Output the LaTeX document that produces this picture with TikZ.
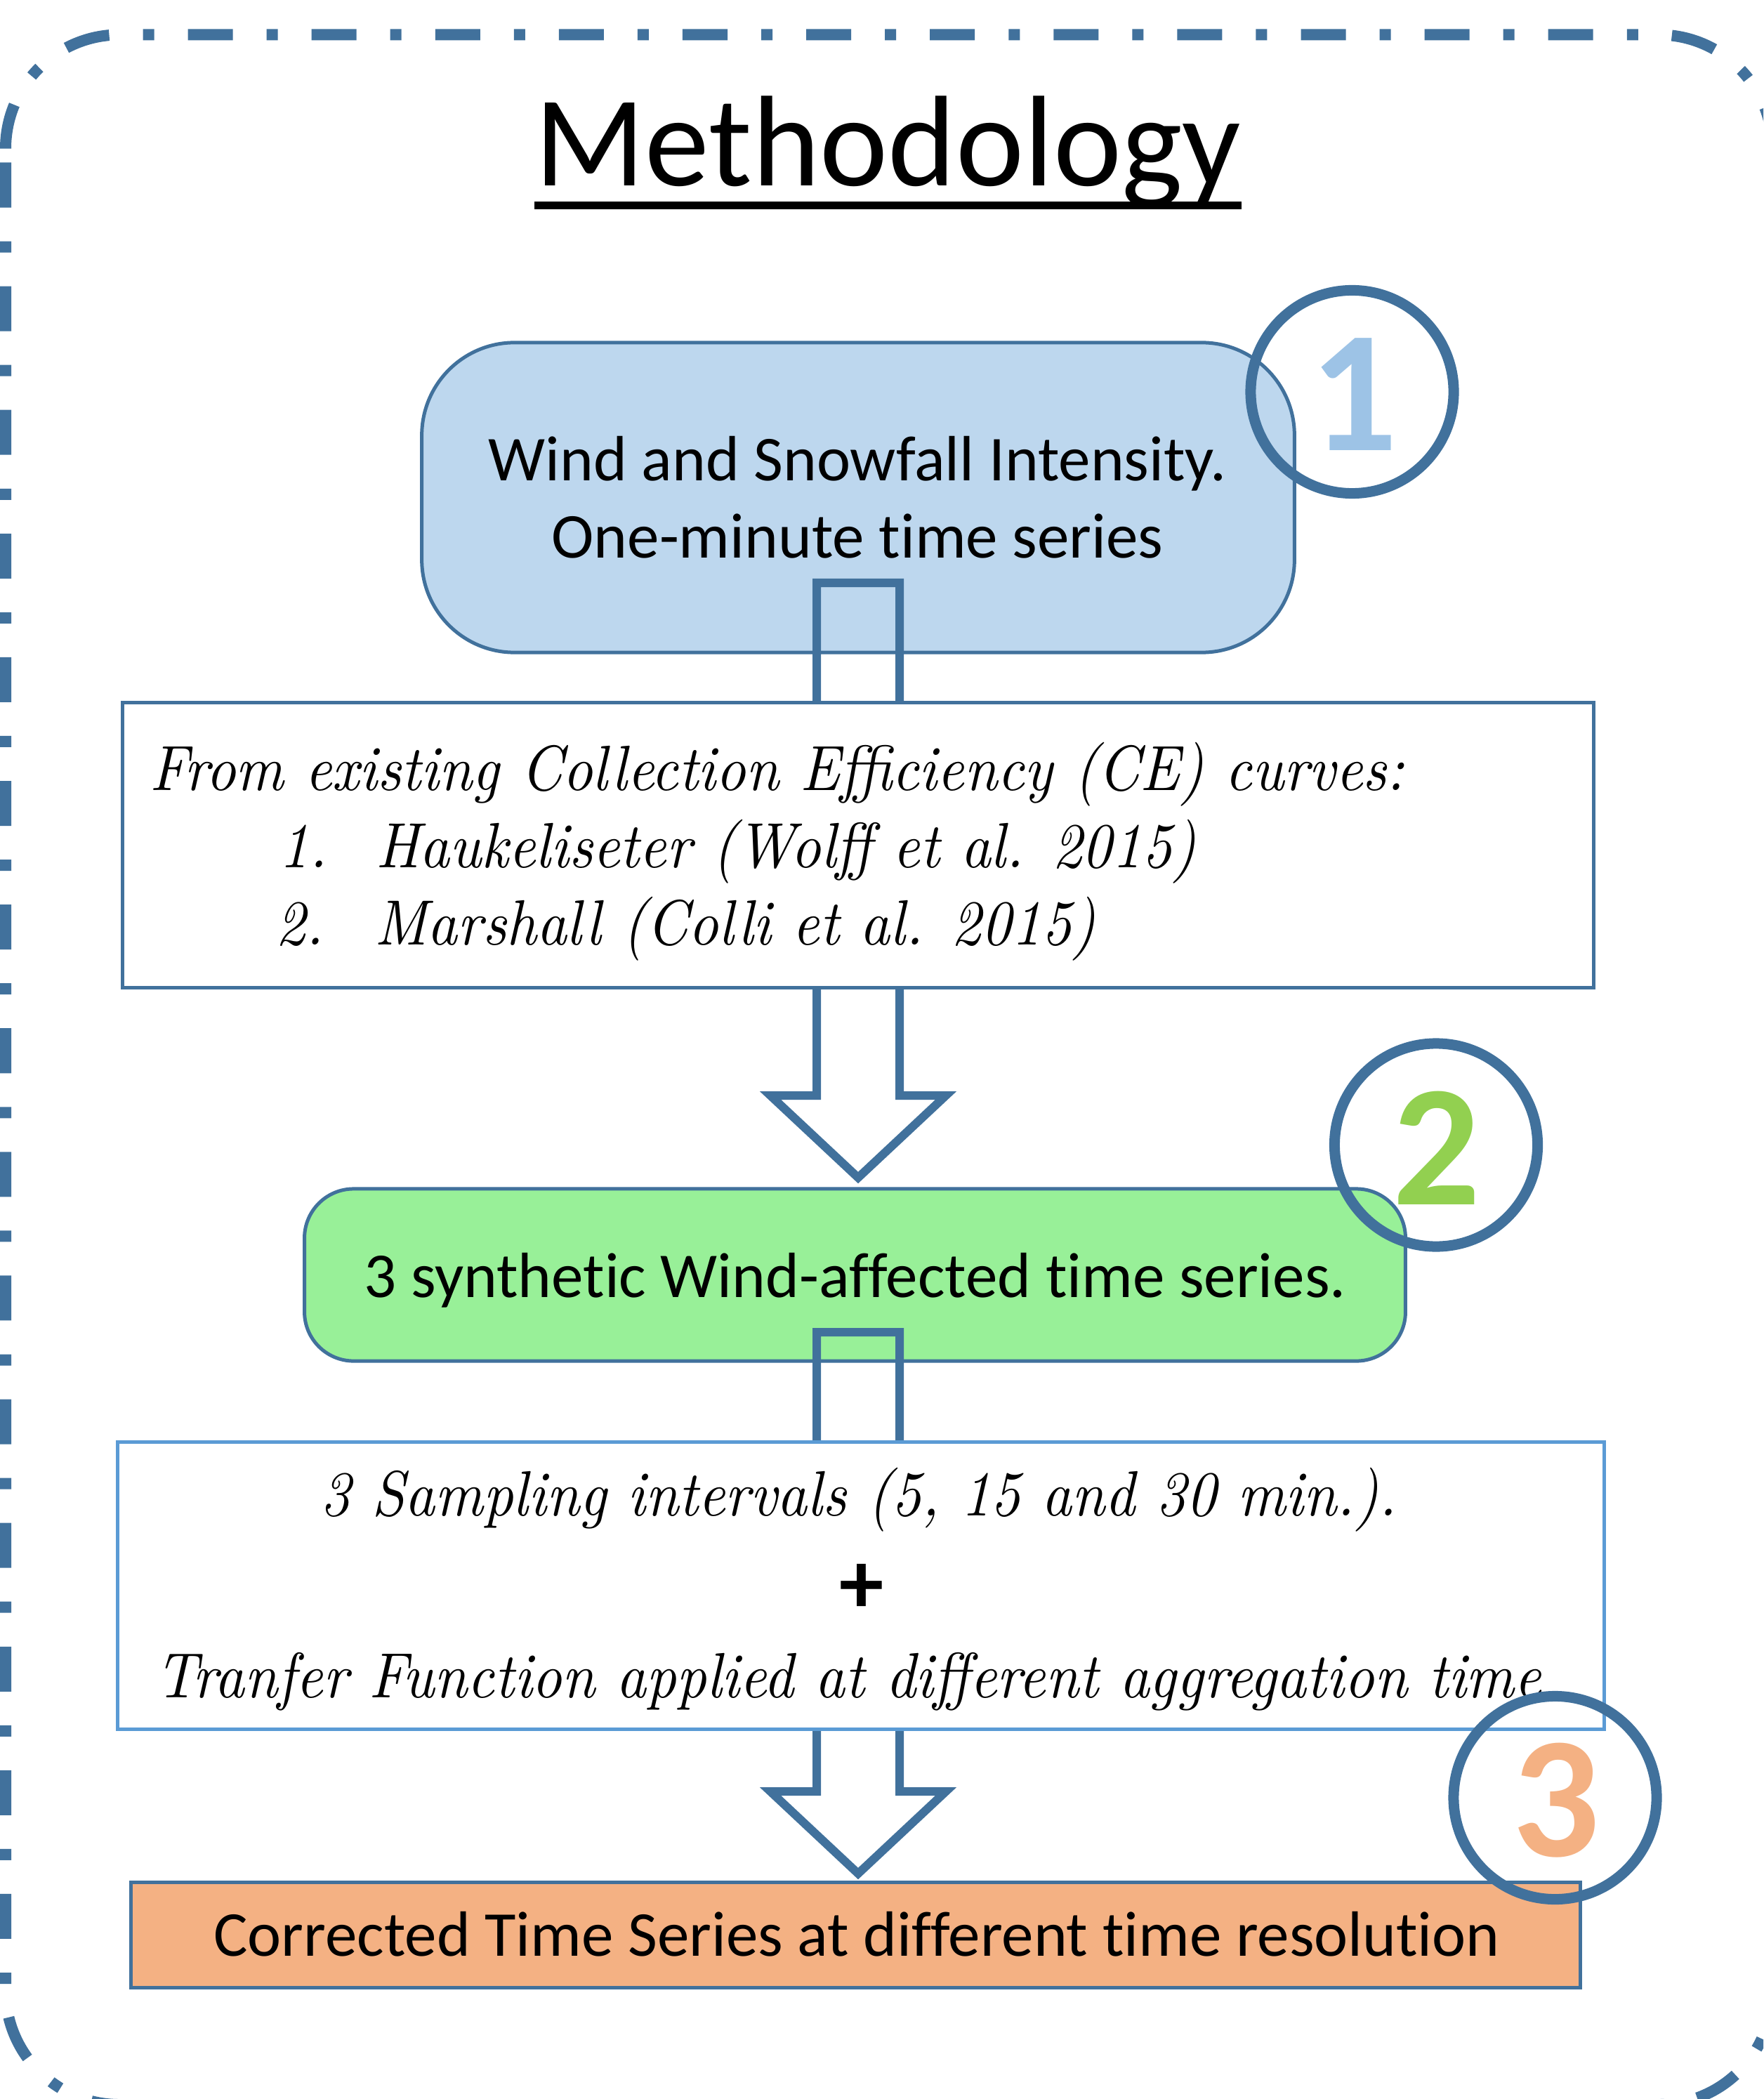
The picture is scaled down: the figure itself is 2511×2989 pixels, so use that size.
\documentclass[tikz,border=0pt]{standalone}
\usepackage{fontspec}
\usepackage{graphicx}
\newfontfamily\calfont{Carlito}[Ligatures=NoCommon]
\newfontfamily\lmtenit{lmroman10-italic}[Extension=.otf]
\definecolor{steel}{HTML}{41719C}
\definecolor{lblue}{HTML}{BDD7EE}
\definecolor{numblue}{HTML}{9DC3E6}
\definecolor{lgreen}{HTML}{98F098}
\definecolor{numgreen}{HTML}{92D050}
\definecolor{peach}{HTML}{F4B183}
\definecolor{midblue}{HTML}{5B9BD5}
\tikzset{
  box/.style={draw=steel, line width=0.05cm, inner sep=0pt, outer sep=0pt},
  calt/.style={font=\calfont\fontsize{25.9pt}{31pt}\selectfont, inner sep=0pt, anchor=base},
  itt/.style={font=\lmtenit\fontsize{25.9pt}{31pt}\selectfont, inner sep=0pt, anchor=base west},
  itc/.style={font=\lmtenit\fontsize{25.9pt}{31pt}\selectfont, inner sep=0pt, anchor=base},
  ring/.style={draw=steel, line width=0.15cm, circle, minimum size=2.89cm, inner sep=0pt},
  num/.style={font=\calfont\bfseries\fontsize{70pt}{80pt}\selectfont, inner sep=0pt},
  blockarrow/.style={draw=steel, line width=0.12cm, line join=miter},
  borderline/.style={draw=steel, line width=0.16cm, dash pattern=on 0.64cm off 0.48cm on 0.16cm off 0.48cm, rounded corners=1.62cm},
}
\newcommand{\narrow}[1]{\scalebox{0.92}[1]{#1}}
\begin{document}
\begin{tikzpicture}[x=0.01cm, y=-0.01cm]
\useasboundingbox (0,0) rectangle (2511,2989);
\clip (0,0) rectangle (2511,2989);

% outer dash-dot border
\draw[borderline] (8,211.5) -- (8,49.5) -- (2524,49.5) -- (2524,2997) -- (170,2997);
\draw[borderline, dash phase=1.56cm] (8,211.5) -- (8,2997) -- (170,2997);

% title
\node[font=\calfont\fontsize{52.3pt}{60pt}\selectfont, inner sep=0pt, anchor=base] (title) at (1264.5,265) {Methodology};
\draw[line width=0.117cm] ([yshift=-0.275cm]title.base west) -- ([yshift=-0.275cm]title.base east);

% box 1
\node[box, fill=lblue, rounded corners=1.32cm, minimum width=12.42cm, minimum height=4.41cm] (b1) at (1222,708.5) {};
\node[calt] (t1a) at (1221,685) {Wind and Snowfall Intensity.};
\node[calt] (t1b) at (1221,795) {One-minute time series};

% arrow 1
\coordinate (a1) at (1222,830);
\draw[blockarrow] (a1) ++(-59,0) -- ++(0,730) -- ++(-66,0) -- ++(125,117) -- ++(125,-117) -- ++(-66,0) -- ++(0,-730) -- cycle;

% box 2
\node[box, fill=white, minimum width=20.94cm, minimum height=4.05cm] (b2) at (1222,1203.5) {};
\node[itt] (t2a) at (213,1125) {\narrow{From existing Collection Efficiency (CE) curves:}};
\node[itt] (t2b) at (397,1235) {\narrow{1.}};
\node[itt] (t2c) at (535,1235) {\narrow{Haukeliseter (Wolff et al. 2015)}};
\node[itt] (t2d) at (392,1345) {\narrow{2.}};
\node[itt] (t2e) at (533,1345) {\narrow{Marshall (Colli et al. 2015)}};

% box 3
\node[box, fill=lgreen, rounded corners=0.70cm, minimum width=15.67cm, minimum height=2.45cm] (b3) at (1217.5,1815.5) {};
\node[calt] (t3) at (1217.5,1847) {3 synthetic Wind-affected time series.};

% arrow 2
\coordinate (a2) at (1222,1897);
\draw[blockarrow] (a2) ++(-59,0) -- ++(0,654) -- ++(-66,0) -- ++(125,117) -- ++(125,-117) -- ++(-66,0) -- ++(0,-654) -- cycle;

% box 4
\node[box, draw=midblue, fill=white, minimum width=21.16cm, minimum height=4.08cm] (b4) at (1226,2258) {};
\node[itc] (t4a) at (1223,2158) {\narrow{3 Sampling intervals (5, 15 and 30 min.).}};
\node[font=\calfont\bfseries\fontsize{36pt}{40pt}\selectfont, inner sep=0pt] (plus) at (1227,2262) {+};
\node[itc] (t4b) at (1208,2417) {\narrow{Tranfer Function applied at different aggregation time}};

% box 5
\node[box, fill=peach, minimum width=20.63cm, minimum height=1.49cm] (b5) at (1218.5,2755.5) {};
\node[calt] (t5) at (1220,2785) {Corrected Time Series at different time resolution};

% numbered circles
\node[ring] (c1) at (1925.5,558) {};
\node[num, text=numblue] (n1) at (1928,562) {1};
\node[ring] (c2) at (2045,1630.5) {};
\node[num, text=numgreen] (n2) at (2046,1635) {2};
\node[ring] (c3) at (2214.5,2560) {};
\node[num, text=peach] (n3) at (2216,2564) {3};
\end{tikzpicture}
\end{document}
